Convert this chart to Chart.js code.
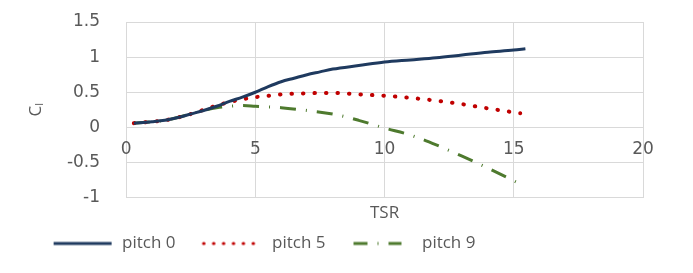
<!DOCTYPE html>
<html lang="en">
<head>
    <meta charset="UTF-8">
    <title>Cl vs TSR</title>
    <script src="https://cdn.jsdelivr.net/npm/chart.js"></script>
    <style>
        html, body { margin: 0; padding: 0; background: #fff; }
        .chart-container { width: 693px; height: 273px; }
    </style>
</head>
<body>
    <div class="chart-container">
        <canvas id="graficaCl"></canvas>
    </div>
    <script>
        // --- Datos ---
        const tsrPitch0 = [0.3, 1, 1.5, 2, 2.5, 3, 3.5, 4, 4.5, 5, 5.5, 6, 6.5, 7, 7.5, 8, 9, 10, 11, 12, 13, 14, 15, 15.45];
        const clPitch0 = [0.06, 0.08, 0.1, 0.14, 0.19, 0.24, 0.3, 0.37, 0.43, 0.5, 0.58, 0.65, 0.7, 0.75, 0.79, 0.83, 0.88, 0.93, 0.96, 0.99, 1.03, 1.07, 1.1, 1.12];

        const tsrPitch5 = [0.3, 1, 1.5, 2, 2.5, 3, 3.5, 4, 4.5, 5, 5.5, 6, 7, 8, 9, 10, 11, 12, 13, 14, 15.25];
        const clPitch5 = [0.06, 0.08, 0.1, 0.14, 0.19, 0.25, 0.31, 0.36, 0.4, 0.43, 0.45, 0.47, 0.485, 0.49, 0.47, 0.45, 0.42, 0.38, 0.33, 0.27, 0.2];

        const tsrPitch9 = [0.3, 1, 1.5, 2, 2.5, 3, 3.5, 4, 4.5, 5, 6, 7, 8, 9, 10, 11, 12, 13, 14, 15.1];
        const clPitch9 = [0.06, 0.08, 0.1, 0.14, 0.19, 0.24, 0.28, 0.3, 0.31, 0.3, 0.28, 0.24, 0.19, 0.1, -0.01, -0.11, -0.25, -0.41, -0.58, -0.78];

        const seriesLabels = ['pitch 0', 'pitch 5', 'pitch 9'];
        const xTicks = [0, 5, 10, 15, 20];
        const yTicks = [-1, -0.5, 0, 0.5, 1, 1.5];

        const colores = ['#1f3a5f', '#c00000', '#4e7a2e'];
        const guiones = [[], [0.5, 11], [16, 10, 1, 10]];

        const toPoints = (xs, ys) => xs.map((x, i) => ({ x: x, y: ys[i] }));

        // muestra de linea para la leyenda (deja hueco a la izquierda como separacion)
        function muestraLinea(color, dash, cap, ancho) {
            const c = document.createElement('canvas');
            c.width = 78;
            c.height = 8;
            const g = c.getContext('2d');
            g.strokeStyle = color;
            g.lineWidth = 3;
            g.lineCap = cap;
            g.setLineDash(dash);
            g.beginPath();
            g.moveTo(18, 4);
            g.lineTo(18 + ancho, 4);
            g.stroke();
            return c;
        }
        const muestras = [
            muestraLinea(colores[0], [], 'butt', 58),
            muestraLinea(colores[1], [0.5, 9.4], 'round', 56),
            muestraLinea(colores[2], [14, 10, 1, 10], 'butt', 48)
        ];

        const gris = '#595959';
        const fuente = "'Open Sans', sans-serif";
        const fuenteTicks = "'DejaVu Sans', sans-serif";

        // mueve la leyenda un poco a la izquierda, como en el original
        const moverLeyenda = {
            id: 'moverLeyenda',
            afterLayout(chart) {
                const lg = chart.legend;
                if (lg) {
                    lg.left = 0;
                    lg.right = 511;
                }
            }
        };

        // etiquetas del eje X sobre la linea y = 0 (como en Excel)
        const etiquetasX = {
            id: 'etiquetasX',
            afterDraw(chart) {
                const { ctx, scales: { x, y } } = chart;
                const y0 = y.getPixelForValue(0);
                ctx.save();
                ctx.font = "17px " + fuenteTicks;
                ctx.fillStyle = gris;
                ctx.textAlign = 'center';
                ctx.textBaseline = 'middle';
                xTicks.forEach(v => ctx.fillText(String(v), x.getPixelForValue(v), y0 + 22));
                ctx.restore();
            }
        };

        const ctx = document.getElementById('graficaCl').getContext('2d');
        new Chart(ctx, {
            type: 'line',
            data: {
                datasets: [
                    {
                        label: seriesLabels[0],
                        data: toPoints(tsrPitch0, clPitch0),
                        borderColor: colores[0],
                        borderWidth: 3,
                        borderDash: guiones[0],
                        pointStyle: muestras[0]
                    },
                    {
                        label: seriesLabels[1],
                        data: toPoints(tsrPitch5, clPitch5),
                        borderColor: colores[1],
                        borderWidth: 4,
                        borderDash: guiones[1],
                        borderCapStyle: 'round',
                        pointStyle: muestras[1]
                    },
                    {
                        label: seriesLabels[2],
                        data: toPoints(tsrPitch9, clPitch9),
                        borderColor: colores[2],
                        borderWidth: 3,
                        borderDash: guiones[2],
                        pointStyle: muestras[2]
                    }
                ]
            },
            options: {
                responsive: true,
                maintainAspectRatio: false,
                animation: false,
                cubicInterpolationMode: 'monotone',
                elements: { point: { radius: 0, hoverRadius: 0 } },
                layout: { padding: { left: 26, right: 50, top: 22, bottom: 11 } },
                scales: {
                    x: {
                        type: 'linear',
                        min: 0,
                        max: 20,
                        position: 'bottom',
                        afterBuildTicks: s => { s.ticks = xTicks.map(v => ({ value: v })); },
                        ticks: { display: false },
                        grid: { color: '#d9d9d9', drawTicks: false },
                        border: { display: false },
                        title: {
                            display: true,
                            text: 'TSR',
                            color: gris,
                            font: { family: fuente, size: 17 },
                            padding: { top: 5, bottom: 2 }
                        }
                    },
                    y: {
                        type: 'linear',
                        min: -1,
                        max: 1.5,
                        afterBuildTicks: s => { s.ticks = yTicks.map(v => ({ value: v })); },
                        grid: {
                            color: '#d9d9d9',
                            drawTicks: true,
                            tickLength: 22,
                            tickColor: 'rgba(0,0,0,0)'
                        },
                        border: { color: '#d9d9d9' },
                        ticks: {
                            color: gris,
                            font: { family: fuenteTicks, size: 17 },
                            padding: 4,
                            callback: v => String(v)
                        },
                        title: {
                            display: true,
                            text: 'C\u2097',
                            color: gris,
                            font: { family: fuente, size: 17 },
                            padding: { top: 0, bottom: 16.5 }
                        }
                    }
                },
                plugins: {
                    legend: {
                        position: 'bottom',
                        labels: {
                            usePointStyle: true,
                            pointStyleWidth: 78,
                            color: gris,
                            font: { family: fuente, size: 17 },
                            padding: 10
                        }
                    },
                    tooltip: { enabled: false }
                }
            },
            plugins: [moverLeyenda, etiquetasX]
        });
    </script>
</body>
</html>
